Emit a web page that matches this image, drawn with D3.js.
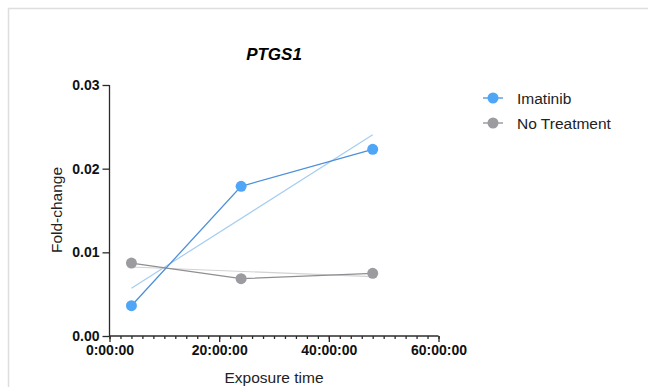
<!DOCTYPE html>
<html>
<head>
<meta charset="utf-8">
<script src="https://cdn.jsdelivr.net/npm/d3@7"></script>
<style>
  body { margin: 0; background: #fff; }
  svg { display: block; font-family: "Liberation Sans", Arial, sans-serif; }
</style>
</head>
<body>
<svg id="chart" width="648" height="387"></svg>
<script>
// exposure time in hours
var hours = [4, 24, 48];
var seriesNames = ['Imatinib', 'No Treatment'];
var imatinib = [0.00362, 0.01789, 0.02231];
var noTreatment = [0.00872, 0.00685, 0.00749];
var yTicks = [0, 0.01, 0.02, 0.03];
var xTicks = [0, 20, 40, 60];

var colors = {
  'Imatinib': { dot: '#4fa6f6', line: '#4c90d8', fit: '#a5cdf1' },
  'No Treatment': { dot: '#9c9ca0', line: '#8f8f93', fit: '#d2d2d4' }
};

var series = [
  { name: seriesNames[0], values: imatinib },
  { name: seriesNames[1], values: noTreatment }
];

var svg = d3.select('#chart');

// frame
svg.append('path')
  .attr('d', 'M8.5,387 V8.5 H648')
  .attr('fill', 'none')
  .attr('stroke', '#dedede')
  .attr('stroke-width', 1.5);

var x = d3.scaleLinear().domain([0, 60]).range([109.5, 438.5]);
var y = d3.scaleLinear().domain([0, 0.03]).range([336, 85]);

// title
svg.append('text')
  .attr('x', 274).attr('y', 60)
  .attr('text-anchor', 'middle')
  .style('font-size', '17px')
  .style('font-weight', 'bold')
  .style('font-style', 'italic')
  .text('PTGS1');

// linear fit through each series
function fit(vals) {
  var mx = d3.mean(hours), my = d3.mean(vals);
  var sxy = d3.sum(hours, function(h, i) { return (h - mx) * (vals[i] - my); });
  var sxx = d3.sum(hours, function(h) { return (h - mx) * (h - mx); });
  var b = sxy / sxx, a = my - b * mx;
  var x0 = d3.min(hours), x1 = d3.max(hours);
  return [[x0, a + b * x0], [x1, a + b * x1]];
}

var line = d3.line()
  .x(function(d) { return x(d[0]); })
  .y(function(d) { return y(d[1]); });

series.forEach(function(s) {
  svg.append('path')
    .attr('d', line(fit(s.values)))
    .attr('fill', 'none')
    .attr('stroke', colors[s.name].fit)
    .attr('stroke-width', 1.2);
});

series.slice().reverse().forEach(function(s) {
  var pts = hours.map(function(h, i) { return [h, s.values[i]]; });
  svg.append('path')
    .attr('d', line(pts))
    .attr('fill', 'none')
    .attr('stroke', colors[s.name].line)
    .attr('stroke-width', 1.3);
  svg.append('g')
    .selectAll('circle')
    .data(pts)
    .enter()
    .append('circle')
    .attr('cx', function(d) { return x(d[0]); })
    .attr('cy', function(d) { return y(d[1]); })
    .attr('r', 5.5)
    .attr('fill', colors[s.name].dot);
});

// y axis
var yAxis = svg.append('g')
  .attr('transform', 'translate(109.5,0)')
  .call(d3.axisLeft(y).tickValues(yTicks).tickSize(7).tickPadding(3)
    .tickFormat(d3.format('.2f')));

// x axis, minor ticks every 2h
var xAxisMinor = svg.append('g')
  .attr('transform', 'translate(0,336)')
  .call(d3.axisBottom(x).tickValues(d3.range(0, 61, 2)).tickSize(3).tickFormat(''));
xAxisMinor.select('.domain').remove();

var xAxis = svg.append('g')
  .attr('transform', 'translate(0,336)')
  .call(d3.axisBottom(x).tickValues(xTicks).tickSize(6).tickPadding(3)
    .tickFormat(function(d) { return d + ':00:00'; }));

[yAxis, xAxis, xAxisMinor].forEach(function(g) {
  g.selectAll('.domain, line').attr('stroke', '#2b2b2b').attr('stroke-width', 1.3);
  g.selectAll('text')
    .attr('fill', '#111')
    .style('font-size', '14px')
    .style('font-weight', 'bold')
    .style('font-family', '"Liberation Sans", Arial, sans-serif');
});
yAxis.selectAll('.domain').attr('d', 'M0,85V336');
xAxis.selectAll('.domain').attr('d', 'M109.5,0H438.5');

// axis titles
svg.append('text')
  .attr('x', 274).attr('y', 383)
  .attr('text-anchor', 'middle')
  .style('font-size', '15.5px')
  .attr('fill', '#222')
  .text('Exposure time');

svg.append('text')
  .attr('transform', 'translate(62,210) rotate(-90)')
  .attr('text-anchor', 'middle')
  .style('font-size', '15.5px')
  .attr('fill', '#222')
  .text('Fold-change');

// legend
var legend = svg.append('g')
  .selectAll('g')
  .data(series)
  .enter()
  .append('g')
  .attr('transform', function(d, i) { return 'translate(493,' + (98 + i * 25) + ')'; });

legend.append('line')
  .attr('x1', -10).attr('x2', 10)
  .attr('stroke', function(d) { return colors[d.name].line; })
  .attr('stroke-width', 1.3);
legend.append('circle')
  .attr('r', 5.5)
  .attr('fill', function(d) { return colors[d.name].dot; });
legend.append('text')
  .attr('x', 24).attr('y', 5.5)
  .style('font-size', '15.5px')
  .attr('fill', '#222')
  .text(function(d) { return d.name; });
</script>
</body>
</html>
